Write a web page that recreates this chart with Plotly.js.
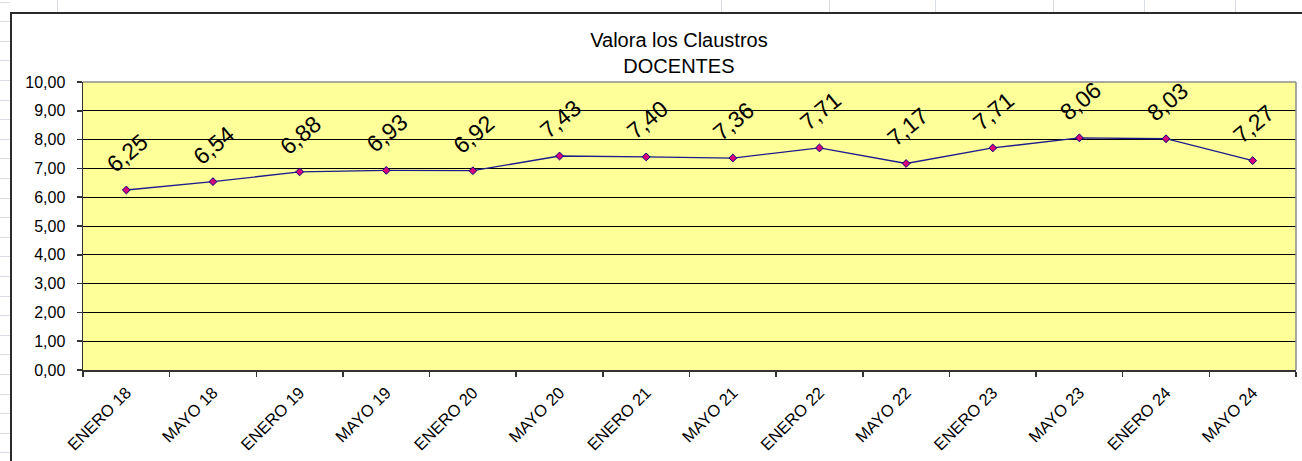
<!DOCTYPE html>
<html>
<head>
<meta charset="utf-8">
<script src="https://cdn.plot.ly/plotly-3.0.1.min.js"></script>
<style>
  html, body { margin: 0; padding: 0; background: #fff; overflow: hidden; }
  body { width: 1302px; height: 461px; position: relative; }
  /* spreadsheet cells behind the chart */
  .rows {
    position: absolute; left: 0; top: 0; width: 10px; height: 461px;
    background: repeating-linear-gradient(to bottom, transparent 0, transparent 1.6px, #d9dde5 1.6px, #d9dde5 2.6px, transparent 2.6px, transparent 19.6px);
  }
  .col { position: absolute; top: 0; width: 1px; height: 12px; background: #d9dde5; }
  #chart {
    position: absolute; left: 10px; top: 12px; width: 1290px; height: 447px;
    border-top: 2px solid #2a2a2a; border-left: 2px solid #2a2a2a; background: #fff;
  }
</style>
</head>
<body>
<div class="rows"></div>
<div class="col" style="left:57px"></div>
<div class="col" style="left:721px"></div>
<div class="col" style="left:829px"></div>
<div class="col" style="left:935px"></div>
<div class="col" style="left:1053px"></div>
<div class="col" style="left:1144px"></div>
<div class="col" style="left:1235px"></div>
<div id="chart"></div>
<script>
// Valora los Claustros - DOCENTES
const periods = ['ENERO 18', 'MAYO 18', 'ENERO 19', 'MAYO 19', 'ENERO 20', 'MAYO 20', 'ENERO 21',
  'MAYO 21', 'ENERO 22', 'MAYO 22', 'ENERO 23', 'MAYO 23', 'ENERO 24', 'MAYO 24'];
const scores = [6.25, 6.54, 6.88, 6.93, 6.92, 7.43, 7.40, 7.36, 7.71, 7.17, 7.71, 8.06, 8.03, 7.27];
const yTicks = [0, 1, 2, 3, 4, 5, 6, 7, 8, 9, 10];

const fmt = v => v.toFixed(2).replace('.', ',');
const font = "'Liberation Sans', Arial, sans-serif";

const data = [
  {
    x: periods,
    y: scores,
    mode: 'lines+markers',
    type: 'scatter',
    line: { color: '#1c1c8c', width: 1.3 },
    marker: { symbol: 'diamond', size: 6, color: '#d8007a', line: { color: '#000080', width: 1 } },
    showlegend: false,
    hoverinfo: 'skip',
    cliponaxis: false,
  },
];

// rotated data labels above each point
const annotations = periods.map((p, i) => ({
  x: p, y: scores[i], xref: 'x', yref: 'y',
  text: fmt(scores[i]),
  showarrow: false,
  textangle: -40,
  yshift: 37, xshift: 1,
  font: { family: font, size: 23, color: '#000' },
}));

const layout = {
  width: 1290,
  height: 447,
  font: { family: font, size: 16, color: '#000' },
  title: {
    text: 'Valora los Claustros<br>DOCENTES',
    font: { family: font, size: 20, color: '#000' },
    x: 0.517, xanchor: 'center', xref: 'container',
    y: 0.927, yanchor: 'top', yref: 'container',
  },
  xaxis: {
    type: 'category',
    range: [-0.5, periods.length - 0.5],
    tickson: 'boundaries',
    ticks: 'outside', ticklen: 5, tickcolor: '#333', tickwidth: 1.5,
    tickangle: -45,
    tickfont: { family: font, size: 16.5, color: '#000' },
    showgrid: false,
    showline: true, linecolor: '#333', linewidth: 1.5,
    ticklabelstandoff: 5,
    fixedrange: true,
  },
  yaxis: {
    range: [0, 10],
    tickvals: yTicks,
    ticktext: yTicks.map(fmt),
    ticks: 'outside', ticklen: 5, tickcolor: '#333', tickwidth: 1.5,
    tickfont: { family: font, size: 16, color: '#000' },
    showgrid: true, gridcolor: '#000', gridwidth: 1,
    zeroline: false,
    showline: true, linecolor: '#333', linewidth: 1.5,
    ticklabelstandoff: 8,
    fixedrange: true,
  },
  shapes: [
    { type: 'line', xref: 'paper', yref: 'paper', x0: 0, x1: 1, y0: 1, y1: 1, line: { color: '#8c8c8c', width: 1.5 } },
    { type: 'line', xref: 'paper', yref: 'paper', x0: 1, x1: 1, y0: 0, y1: 1, line: { color: '#8c8c8c', width: 1.5 } },
  ],
  annotations,
  plot_bgcolor: '#FFFF99',
  paper_bgcolor: '#FFFFFF',
  margin: { l: 71, r: 6, t: 68, b: 91 },
};

Plotly.newPlot('chart', data, layout, { displayModeBar: false, staticPlot: true });
</script>
</body>
</html>
